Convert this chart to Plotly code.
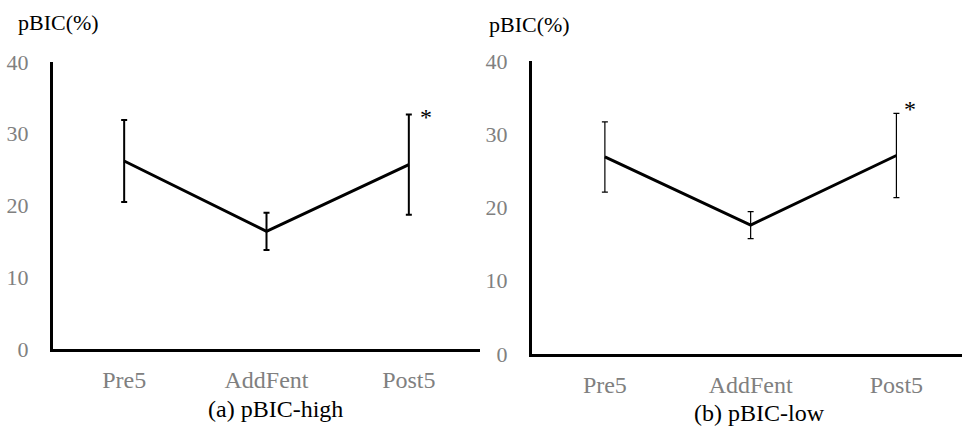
import plotly.graph_objects as go

categories = ["Pre5", "AddFent", "Post5"]
high_mean = [26.2, 16.4, 25.7]
high_err = [5.7, 2.6, 7.0]
low_mean = [26.9, 17.6, 27.1]
low_err = [4.8, 1.85, 5.75]
y_ticks = [0, 10, 20, 30, 40]
panel_titles = ["(a) pBIC-high", "(b) pBIC-low"]
y_label = "pBIC(%)"

W, H = 962, 438
FONT = "'Liberation Serif', Tinos, 'Times New Roman', 'DejaVu Serif', serif"
GRAY = "#808080"


def px_x(p):
    return p / W


def px_y(p):
    return 1 - p / H


fig = go.Figure()

fig.add_trace(go.Scatter(
    x=categories, y=high_mean, mode="lines",
    line=dict(color="black", width=3),
    error_y=dict(type="data", array=high_err, visible=True,
                 color="black", thickness=2, width=3),
    xaxis="x", yaxis="y", showlegend=False, hoverinfo="skip"))

fig.add_trace(go.Scatter(
    x=categories, y=low_mean, mode="lines",
    line=dict(color="black", width=3),
    error_y=dict(type="data", array=low_err, visible=True,
                 color="black", thickness=1.2, width=3),
    xaxis="x2", yaxis="y2", showlegend=False, hoverinfo="skip"))

common_x = dict(type="category", showgrid=False, zeroline=False,
                showline=True, linecolor="black", linewidth=3,
                ticks="outside", ticklen=7, tickcolor="rgba(0,0,0,0)",
                tickfont=dict(family=FONT, size=24, color=GRAY),
                automargin=False, fixedrange=True)
common_y = dict(range=[0, 40], tickvals=y_ticks, showgrid=False,
                zeroline=False, showline=True, linecolor="black",
                linewidth=3, ticks="outside", ticklen=17,
                tickcolor="rgba(0,0,0,0)",
                tickfont=dict(family=FONT, size=22, color=GRAY),
                automargin=False, fixedrange=True)

fig.update_layout(
    template="none",
    width=W, height=H,
    margin=dict(l=0, r=0, t=0, b=0, pad=0),
    paper_bgcolor="white", plot_bgcolor="white",
    font=dict(family=FONT, color="black"),
    xaxis=dict(domain=[px_x(53), px_x(480)], range=[-0.5, 2.5],
               anchor="y", **common_x),
    yaxis=dict(domain=[px_y(349), px_y(62)], anchor="x", **common_y),
    xaxis2=dict(domain=[px_x(532), 1.0], range=[-0.5, 2.45],
                anchor="y2", **common_x),
    yaxis2=dict(domain=[px_y(354), px_y(61)], anchor="x2", **common_y),
)


def label(text, x, y, size, ref=("paper", "paper")):
    return dict(text=text, x=x, y=y, xref=ref[0], yref=ref[1],
                xanchor="center", yanchor="middle", showarrow=False,
                font=dict(family=FONT, size=size, color="black"))


annotations = [
    label(y_label, px_x(58), px_y(22), 22),
    label(y_label, px_x(529), px_y(25), 22),
    label(panel_titles[0], px_x(275), px_y(409), 24),
    label(panel_titles[1], px_x(759), px_y(413), 24),
    label("*", 2.12, 32.4, 24, ("x", "y")),
    label("*", 2.09, 33.4, 24, ("x2", "y2")),
]
fig.update_layout(annotations=annotations)

fig.write_html("out.html", config={"displayModeBar": False})
